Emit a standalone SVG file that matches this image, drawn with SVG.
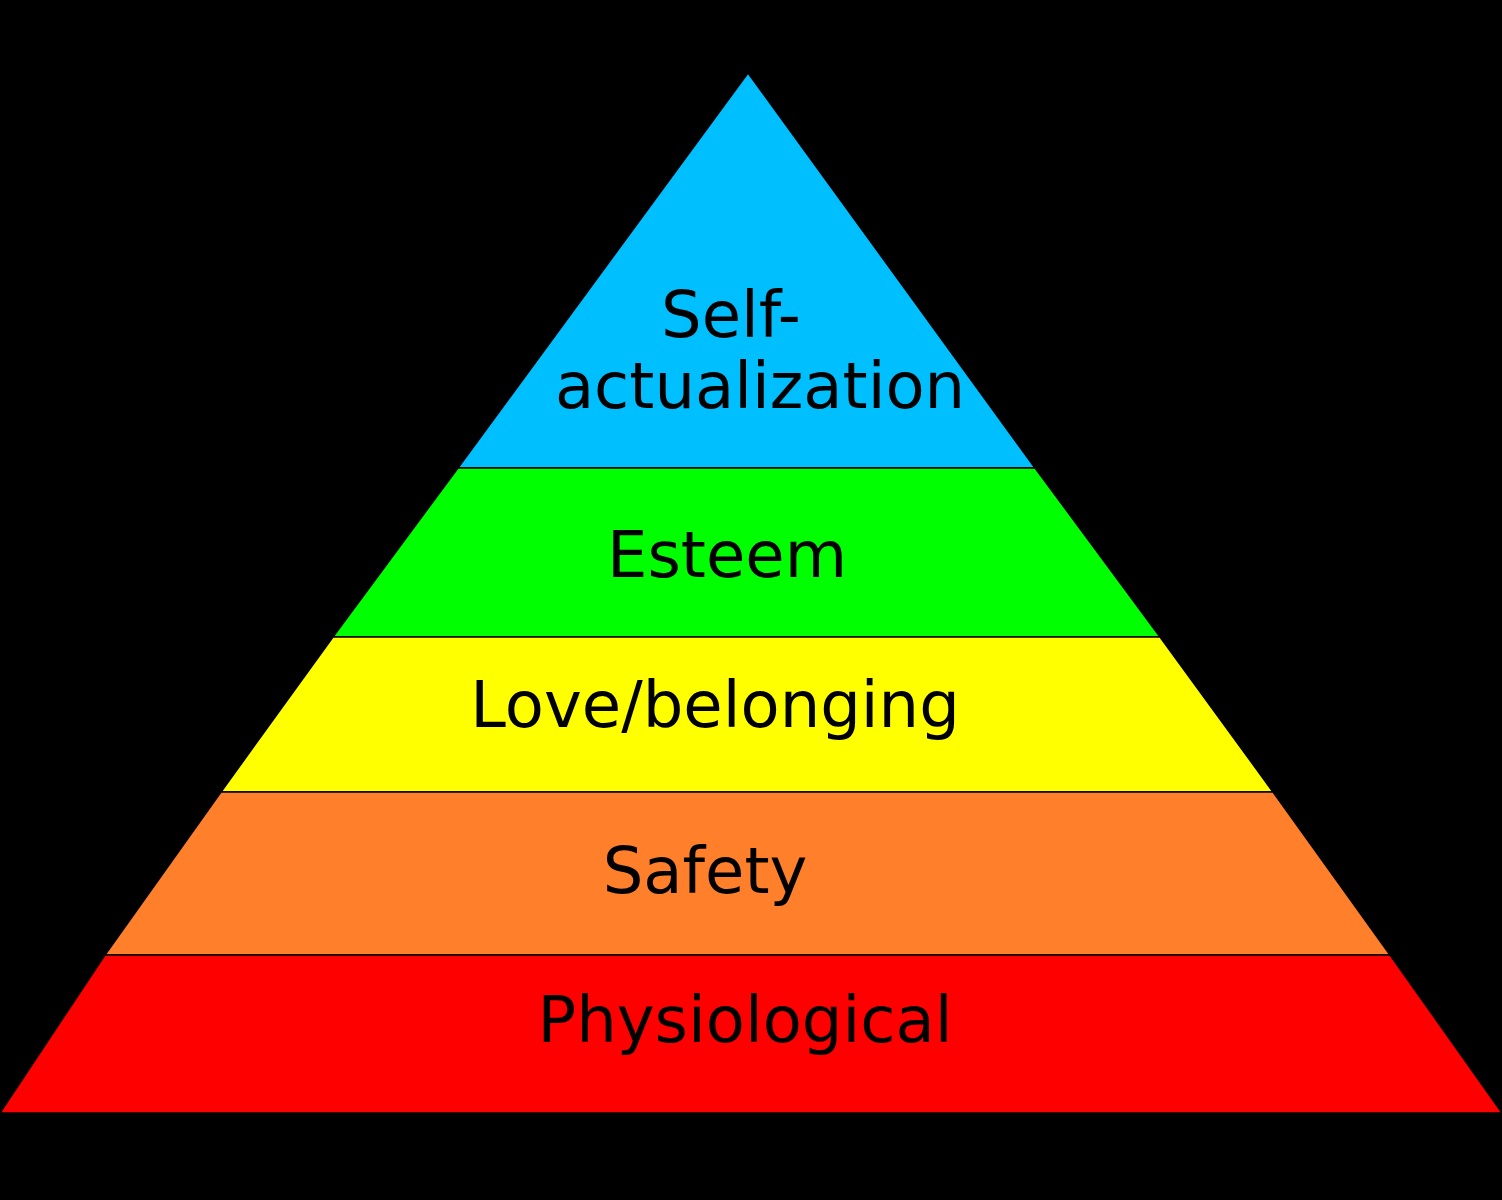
<svg xmlns="http://www.w3.org/2000/svg" width="1502" height="1200" viewBox="0 0 1502 1200">
<style>
.l{stroke:#000;stroke-width:1.5}
text{font-family:"DejaVu Sans",sans-serif;font-size:64px;fill:#000;text-anchor:middle}
</style>
<rect width="1502" height="1200" fill="#000"/>
<g id="self"><polygon class="l" fill="#00BFFF" points="748,73 1035,468 458,468"/><text x="731" y="337">Self-</text><text x="760" y="408">actualization</text></g>
<g id="esteem"><polygon class="l" fill="#00FF00" points="458,468 1035,468 1160,637 333,637"/><text x="727" y="577">Esteem</text></g>
<g id="love"><polygon class="l" fill="#FFFF00" points="333,637 1160,637 1273,792 221,792"/><text x="715" y="727">Love/belonging</text></g>
<g id="safety"><polygon class="l" fill="#FF7F2A" points="221,792 1273,792 1390,955 105,955"/><text x="705" y="893">Safety</text></g>
<g id="phys"><polygon class="l" fill="#FF0000" points="105,955 1390,955 1502,1113 0,1113"/><text x="745" y="1042">Physiological</text></g>
<g id="connectors"/>
</svg>
